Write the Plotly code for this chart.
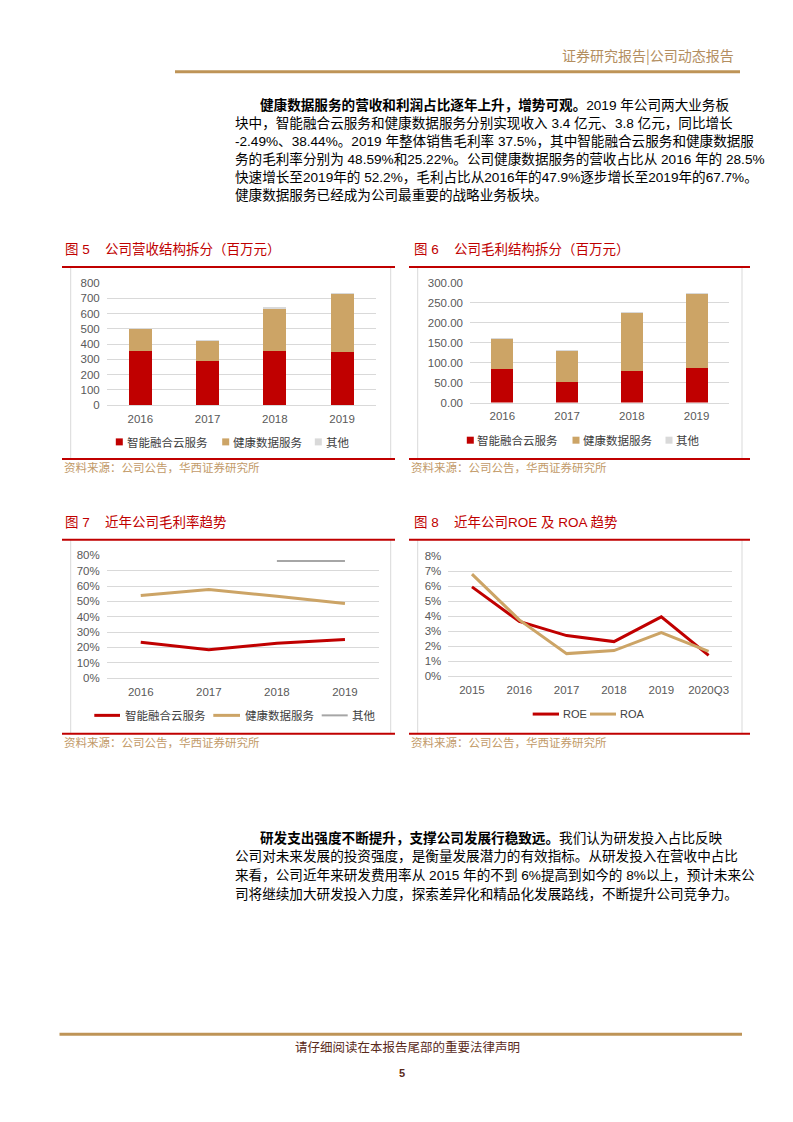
import plotly.graph_objects as go

# ---------------- data ----------------
years = ['2016', '2017', '2018', '2019']
rev_smart = [358, 287, 353, 346]
rev_health = [147, 136, 279, 382]
rev_other = [0.5, 0.5, 6, 6.5]

gp_smart = [83, 51, 78, 87]
gp_health = [77, 80, 147, 186]
gp_other = [0.5, 0.5, 1.7, 1.7]

gm_smart = [23.3, 18.5, 22.7, 25.22]
gm_health = [53.9, 57.8, 53.3, 48.59]
gm_other = [None, None, 76.3, 76.3]

ret_years = ['2015', '2016', '2017', '2018', '2019', '2020Q3']
roe = [5.95, 3.65, 2.7, 2.3, 3.95, 1.38]
roa = [6.8, 3.75, 1.5, 1.7, 2.9, 1.65]

series_names = ['智能融合云服务', '健康数据服务', '其他']

para1 = [
    '<b>健康数据服务的营收和利润占比逐年上升，增势可观。</b>2019 年公司两大业务板',
    '块中，智能融合云服务和健康数据服务分别实现收入 3.4 亿元、3.8 亿元，同比增长',
    '-2.49%、38.44%。2019 年整体销售毛利率 37.5%，其中智能融合云服务和健康数据服',
    '务的毛利率分别为 48.59%和25.22%。公司健康数据服务的营收占比从 2016 年的 28.5%',
    '快速增长至2019年的 52.2%，毛利占比从2016年的47.9%逐步增长至2019年的67.7%。',
    '健康数据服务已经成为公司最重要的战略业务板块。',
]
para2 = [
    '<b>研发支出强度不断提升，支撑公司发展行稳致远。</b>我们认为研发投入占比反映',
    '公司对未来发展的投资强度，是衡量发展潜力的有效指标。从研发投入在营收中占比',
    '来看，公司近年来研发费用率从 2015 年的不到 6%提高到如今的 8%以上，预计未来公',
    '司将继续加大研发投入力度，探索差异化和精品化发展路线，不断提升公司竞争力。',
]

# ---------------- styles ----------------
PAGE_W, PAGE_H = 793, 1122
OFF = 8                      # default body margin of the html page
W, H = PAGE_W - 2 * OFF, PAGE_H - 2 * OFF
RED = '#C00000'
TAN = '#CCA466'
GREY_BAR = '#D9D9D9'
GREY_LINE = '#A6A6A6'
GRID = '#D9D9D9'
TICK = '#595959'
TITLE_C = '#C00000'
SRC_C = '#C29A68'
HEAD_C = '#B38E60'
GOLD = '#BE9457'
CJK = 'Noto Sans CJK SC'
NUM = 'Liberation Sans, Noto Sans CJK SC'
VS, VB = 0.9896, 4.7          # vertical calibration of the photographed page


def X(px):
    return (px - OFF) / W


def Y(py):
    pyc = (py - VB) / VS
    return 1 - (pyc - OFF) / H


fig = go.Figure()

# chart 5: revenue
for vals, col, nm in zip([rev_smart, rev_health, rev_other], [RED, TAN, GREY_BAR], series_names):
    fig.add_trace(go.Bar(x=years, y=vals, name=nm, marker=dict(color=col, line=dict(width=0)),
                         xaxis='x', yaxis='y', showlegend=False))
# chart 6: gross profit
for vals, col, nm in zip([gp_smart, gp_health, gp_other], [RED, TAN, GREY_BAR], series_names):
    fig.add_trace(go.Bar(x=years, y=vals, name=nm, marker=dict(color=col, line=dict(width=0)),
                         xaxis='x2', yaxis='y2', showlegend=False))
# chart 7: gross margin
for vals, col, nm, w in zip([gm_smart, gm_health, gm_other], [RED, TAN, GREY_LINE], series_names, [3, 3, 2]):
    fig.add_trace(go.Scatter(x=years, y=vals, name=nm, mode='lines', line=dict(color=col, width=w),
                             xaxis='x3', yaxis='y3', showlegend=False))
# chart 8: ROE / ROA
for vals, col, nm in zip([roe, roa], [RED, TAN], ['ROE', 'ROA']):
    fig.add_trace(go.Scatter(x=ret_years, y=vals, name=nm, mode='lines', line=dict(color=col, width=3),
                             xaxis='x4', yaxis='y4', showlegend=False))

xfont = dict(family=NUM, size=11.5, color=TICK)
yfont = dict(family=NUM, size=11.5, color=TICK)


def xax(dom, anchor, n):
    return dict(domain=[X(dom[0]), X(dom[1])], anchor=anchor, type='category', showgrid=False,
                range=[-0.5, n - 0.5],
                showline=True, linecolor=GRID, linewidth=1, ticks='', tickfont=xfont,
                fixedrange=True, ticklabelstandoff=3)


def yax(dom, anchor, rng, dtick, fmt=None, suffix=None):
    d = dict(domain=[Y(dom[0]), Y(dom[1])], anchor=anchor, range=rng, dtick=dtick, showgrid=True,
             gridcolor=GRID, gridwidth=1, zeroline=False, showline=False, ticks='', tickfont=yfont,
             fixedrange=True, ticklabelstandoff=6)
    if fmt:
        d['tickformat'] = fmt
    if suffix:
        d['ticksuffix'] = suffix
    return d


fig.update_layout(
    width=W, height=H, margin=dict(l=0, r=0, t=0, b=0),
    paper_bgcolor='white', plot_bgcolor='white',
    barmode='stack', bargap=0.66,
    xaxis=xax((106.7, 375.7), 'y', len(years)),
    yaxis=yax((404, 281.7), 'x', [0, 800], 100),
    xaxis2=xax((470, 729), 'y2', len(years)),
    yaxis2=yax((401.3, 281.7), 'x2', [0, 300], 50, fmt='.2f'),
    xaxis3=xax((106.7, 379), 'y3', len(years)),
    yaxis3=yax((677, 554.3), 'x3', [0, 80], 10, suffix='%'),
    xaxis4=xax((448.3, 732.3), 'y4', len(ret_years)),
    yaxis4=yax((675, 555), 'x4', [0, 8], 1, suffix='%'),
)

shapes = []
annots = []


def hline(x0, x1, y, color, width):
    shapes.append(dict(type='line', xref='paper', yref='paper', x0=X(x0), x1=X(x1), y0=Y(y), y1=Y(y),
                       line=dict(color=color, width=width)))


def vline(x, y0, y1, color, width):
    shapes.append(dict(type='line', xref='paper', yref='paper', x0=X(x), x1=X(x), y0=Y(y0), y1=Y(y1),
                       line=dict(color=color, width=width)))


def text(x, y, s, size, color, family=CJK, anchor='left'):
    annots.append(dict(xref='paper', yref='paper', x=X(x), y=Y(y), text=s, showarrow=False,
                       xanchor=anchor, yanchor='middle', font=dict(family=family, size=size, color=color)))


# header
text(736, 54, '证券研究报告|公司动态报告', 14, HEAD_C, anchor='right')
hline(175, 740, 70.5, GOLD, 3)

# paragraphs
for i, line in enumerate(para1):
    text(258 if i == 0 else 233, 103.5 + 18.1 * i, line, 13.6, '#000000', family=NUM)
for i, line in enumerate(para2):
    text(258 if i == 0 else 233, 837 + 18.6 * i, line, 13.6, '#000000', family=NUM)

# chart frames
panels = [
    dict(x0=62, x1=395, bl=70.7, br=390.7, top=265.7, bot=457.7, tx=63.3, ty=248, num='图 5',
         title='公司营收结构拆分（百万元）', title_x=103.3),
    dict(x0=409, x1=750, bl=417.7, br=742, top=265.7, bot=457.7, tx=412.3, ty=248, num='图 6',
         title='公司毛利结构拆分（百万元）', title_x=451.7),
    dict(x0=62, x1=395, bl=70.7, br=390.7, top=538.7, bot=732.7, tx=63.3, ty=521, num='图 7',
         title='近年公司毛利率趋势', title_x=103.3),
    dict(x0=409, x1=750, bl=417.7, br=742, top=538.7, bot=732.7, tx=412.3, ty=521, num='图 8',
         title='近年公司ROE 及 ROA 趋势', title_x=451.7),
]
for p in panels:
    vline(p['bl'], p['top'], p['bot'], GRID, 1)
    vline(p['br'], p['top'], p['bot'], GRID, 1)
    hline(p['x0'], p['x1'], p['top'], RED, 2)
    hline(p['x0'], p['x1'], p['bot'], RED, 2)
    text(p['tx'], p['ty'], p['num'], 13.5, TITLE_C, family=NUM)
    text(p['title_x'], p['ty'], p['title'], 13.5, TITLE_C, family=NUM)
    text(p['x0'], p['bot'] + 8.5, '资料来源：公司公告，华西证券研究所', 11.5, SRC_C)


# legends (manual)
def sq(cx, cy, color, s=7):
    shapes.append(dict(type='rect', xref='paper', yref='paper', x0=X(cx - s / 2), x1=X(cx + s / 2),
                       y0=Y(cy + s / 2), y1=Y(cy - s / 2), line=dict(width=0), fillcolor=color))


leg_c = '#404040'
bar_cols = [RED, TAN, GREY_BAR]
for (cx, tx), col, nm in zip([(119.3, 125), (225.7, 231), (318.3, 323.5)], bar_cols, series_names):
    sq(cx, 440.7, col)
    text(tx, 440.7, nm, 11.5, leg_c)
for (cx, tx), col, nm in zip([(470.3, 474.5), (576, 581), (669, 673.5)], bar_cols, series_names):
    sq(cx, 439, col)
    text(tx, 439, nm, 11.5, leg_c)
line_cols = [RED, TAN, GREY_LINE]
for (lx0, lx1, tx), col, nm, w in zip([(94.3, 120, 122.5), (213.3, 240, 242.5), (321.7, 347.7, 350)],
                                       line_cols, series_names, [3, 3, 2]):
    hline(lx0, lx1, 714.3, col, w)
    text(tx, 714.3, nm, 11.5, leg_c)
for (lx0, lx1, tx), col, nm in zip([(532.7, 559, 561), (590, 616, 617.5)], [RED, TAN], ['ROE', 'ROA']):
    hline(lx0, lx1, 713, col, 3)
    text(tx, 713, nm, 11, leg_c, family=NUM)

# footer
hline(59.5, 742, 1033.3, GOLD, 3)
text(407, 1046, '请仔细阅读在本报告尾部的重要法律声明', 12.5, '#5A2A1A', anchor='center')
text(401.6, 1072.5, '<b>5</b>', 11, '#5A2A1A', family=NUM, anchor='center')

fig.update_layout(shapes=shapes, annotations=annots)

fig.write_html('out.html', config={'displayModeBar': False})
